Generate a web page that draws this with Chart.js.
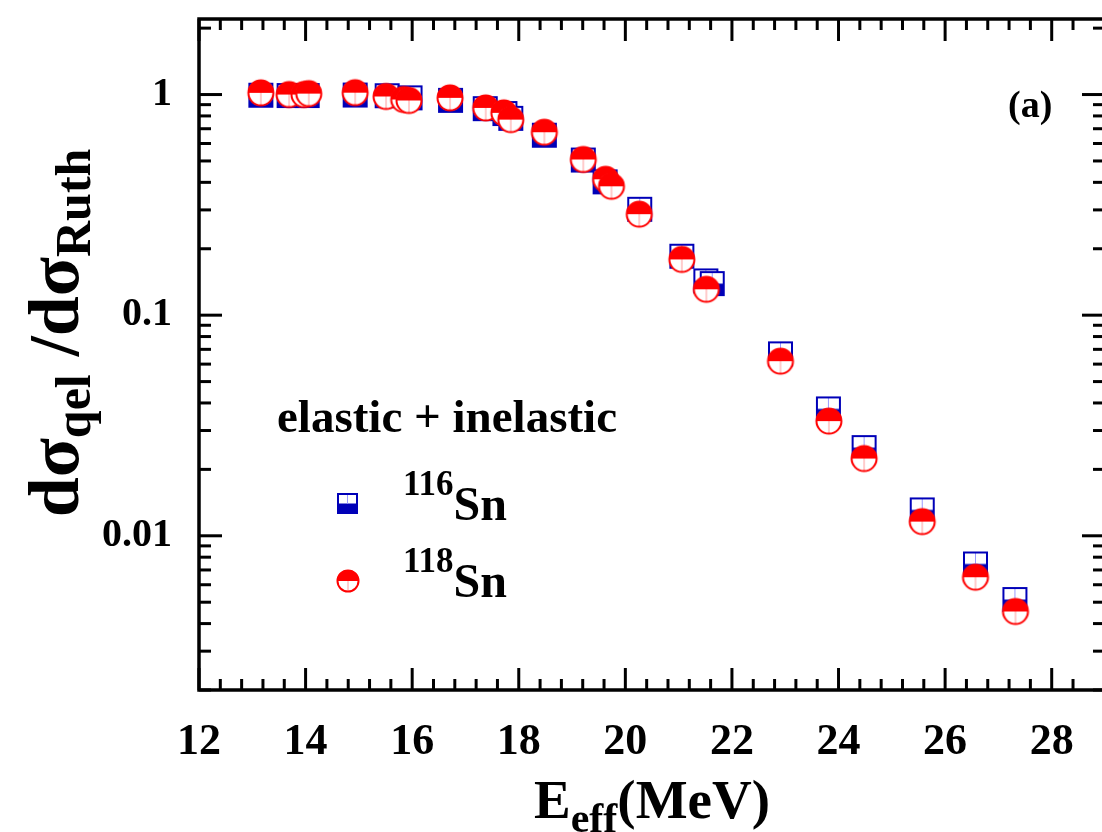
<!DOCTYPE html>
<html>
<head>
<meta charset="utf-8">
<script src="https://cdn.jsdelivr.net/npm/chart.js"></script>
<style>
  html, body { margin: 0; padding: 0; background: #fff; overflow: hidden; }
  #wrap { width: 1110px; height: 832px; }
</style>
</head>
<body>
<div id="wrap"><canvas id="qel" width="1110" height="832"></canvas></div>
<script>
// values (E_eff in MeV, ratio to Rutherford)
const energy116 = [13.16, 13.69, 14.03, 14.93, 15.53, 15.96, 16.72, 17.37, 17.74, 17.85, 18.48, 19.21, 19.62, 20.27, 21.06, 21.51, 21.63, 22.91, 23.81, 24.48, 25.57, 26.57, 27.31];
const sigma116  = [0.993, 0.99, 0.99, 0.995, 0.988, 0.966, 0.941, 0.863, 0.82, 0.78, 0.654, 0.505, 0.402, 0.302, 0.185, 0.143, 0.139, 0.0668, 0.0376, 0.0251, 0.0131, 0.00745, 0.00514];

const energy118 = [13.16, 13.69, 13.97, 14.06, 14.93, 15.51, 15.84, 15.94, 16.71, 17.38, 17.72, 17.85, 18.48, 19.21, 19.63, 19.74, 20.26, 21.06, 21.52, 22.91, 23.82, 24.48, 25.57, 26.57, 27.32];
const sigma118  = [1.018, 1.0, 1.0, 1.01, 1.02, 0.98, 0.95, 0.94, 0.966, 0.87, 0.826, 0.77, 0.675, 0.508, 0.413, 0.384, 0.287, 0.179, 0.131, 0.0619, 0.0331, 0.0224, 0.0116, 0.00649, 0.00454];

const yLabels = {1: '1', 0.1: '0.1', 0.01: '0.01'};
const xLabelStep = 2;

const SERIF = '"Liberation Serif", "Times New Roman", serif';
const BLUE = '#0000b8';
const RED = '#ff0000';

// half filled markers, like the origin plot symbols
function squareMarker(size) {
  const c = document.createElement('canvas');
  c.width = c.height = size + 4;
  const g = c.getContext('2d');
  const o = 2;
  g.fillStyle = '#fff';
  g.fillRect(o, o, size, size / 2);
  g.fillStyle = BLUE;
  g.fillRect(o, o + size / 2, size, size / 2);
  g.strokeStyle = '#9a9aff';
  g.lineWidth = 1;
  g.beginPath();
  g.moveTo(o + size / 2, o + 1);
  g.lineTo(o + size / 2, o + size / 2);
  g.stroke();
  g.strokeStyle = BLUE;
  g.lineWidth = 2;
  g.strokeRect(o, o, size, size);
  return c;
}

function circleMarker(size) {
  const c = document.createElement('canvas');
  c.width = c.height = size + 4;
  const g = c.getContext('2d');
  const m = (size + 4) / 2, r = size / 2;
  g.fillStyle = '#fff';
  g.beginPath(); g.arc(m, m, r, 0, Math.PI * 2); g.fill();
  g.fillStyle = RED;
  g.beginPath(); g.arc(m, m, r, Math.PI, Math.PI * 2); g.closePath(); g.fill();
  g.strokeStyle = '#ff9a9a';
  g.lineWidth = 1;
  g.beginPath(); g.moveTo(m, m); g.lineTo(m, m + r - 1); g.stroke();
  g.strokeStyle = RED;
  g.lineWidth = 2;
  g.beginPath(); g.arc(m, m, r - 0.5, 0, Math.PI * 2); g.stroke();
  return c;
}

function toPoints(xs, ys) {
  return xs.map((v, i) => ({x: v, y: ys[i]}));
}

// draw a run of text pieces [text, size, baseline shift]
function drawPieces(ctx, pieces, x, y, center) {
  let total = 0;
  pieces.forEach(p => {
    ctx.font = 'bold ' + p[1] + 'px ' + SERIF;
    total += ctx.measureText(p[0]).width;
  });
  let cx = center ? x - total / 2 : x;
  pieces.forEach(p => {
    ctx.font = 'bold ' + p[1] + 'px ' + SERIF;
    ctx.fillText(p[0], cx, y + (p[2] || 0));
    cx += ctx.measureText(p[0]).width;
  });
}

// keep chart.js from adding room for the edge labels
function noPad(s) {
  s.paddingTop = 0;
  s.paddingBottom = 0;
  s.paddingLeft = 0;
  s.paddingRight = 0;
}

const framePlugin = {
  id: 'frame',
  afterDraw(chart) {
    const ctx = chart.ctx;
    const a = chart.chartArea;
    const x = chart.scales.x, y = chart.scales.y;
    ctx.save();
    ctx.strokeStyle = '#000';
    ctx.fillStyle = '#000';

    const line = (x1, y1, x2, y2) => {
      ctx.beginPath(); ctx.moveTo(x1, y1); ctx.lineTo(x2, y2); ctx.stroke();
    };

    ctx.lineWidth = 3;
    x.ticks.forEach(t => {
      const k = (t.value - 12) / 0.4;
      if (Math.abs(k - Math.round(k)) > 1e-6) return;
      const v = Math.round(t.value * 10) / 10;
      const major = Math.abs(v - Math.round(v)) < 1e-6 && Math.round(v) % xLabelStep === 0;
      const px = x.getPixelForValue(t.value);
      const len = major ? 22 : 11;
      line(px, a.bottom, px, a.bottom - len);
      line(px, a.top, px, a.top + len);
    });
    y.ticks.forEach(t => {
      const e = Math.floor(Math.log10(t.value) + 1e-9);
      const m = t.value / Math.pow(10, e);
      if (Math.abs(m - Math.round(m)) > 1e-6) return;
      const major = Math.round(m) === 1;
      const py = y.getPixelForValue(t.value);
      const len = major ? 23 : 12;
      line(a.left, py, a.left + len, py);
      line(a.right, py, a.right - len, py);
    });

    ctx.lineWidth = 3.5;
    ctx.strokeRect(a.left, a.top, a.right - a.left, a.bottom - a.top);

    // axis titles
    ctx.textAlign = 'left';
    ctx.textBaseline = 'alphabetic';
    drawPieces(ctx, [['E', 55], ['eff', 42, 14], ['(MeV)', 55]], (a.left + a.right) / 2, 818, true);

    ctx.save();
    ctx.translate(78, 333);
    ctx.rotate(-Math.PI / 2);
    drawPieces(ctx, [['d\u03c3', 72], ['qel', 50, 12], [' /d\u03c3', 72], ['Ruth', 50, 12]], 0, 0, true);
    ctx.restore();

    // legend block
    drawPieces(ctx, [['elastic + inelastic', 47]], 277, 432, false);
    drawPieces(ctx, [['116', 35], ['Sn', 48, 25]], 403, 495, false);
    drawPieces(ctx, [['118', 35], ['Sn', 48, 25]], 403, 572, false);
    const sq = squareMarker(19), ci = circleMarker(22);
    ctx.drawImage(sq, 347.5 - sq.width / 2, 503.5 - sq.height / 2);
    ctx.drawImage(ci, 348 - ci.width / 2, 581 - ci.height / 2);

    drawPieces(ctx, [['(a)', 38]], 1008, 117, false);
    ctx.restore();
  }
};

new Chart(document.getElementById('qel'), {
  type: 'scatter',
  data: {
    datasets: [
      {
        label: '118Sn',
        data: toPoints(energy118, sigma118),
        pointStyle: circleMarker(26),
        order: 1
      },
      {
        label: '116Sn',
        data: toPoints(energy116, sigma116),
        pointStyle: squareMarker(23),
        order: 2
      }
    ]
  },
  options: {
    responsive: false,
    animation: false,
    devicePixelRatio: 1,
    layout: {padding: {top: 19, right: 4, left: 0, bottom: 0}},
    plugins: {legend: {display: false}, tooltip: {enabled: false}},
    scales: {
      x: {
        type: 'linear',
        min: 12,
        max: 29,
        grid: {display: false, drawTicks: false},
        border: {display: false},
        ticks: {
          stepSize: 0.4,
          autoSkip: false,
          maxRotation: 0,
          padding: 26,
          color: '#000',
          font: {family: SERIF, weight: 'bold', size: 44},
          callback: v => {
            const r = Math.round(v);
            return (Math.abs(v - r) < 1e-6 && r % xLabelStep === 0) ? String(r) : '';
          }
        },
        afterFit: s => { s.height = 142; noPad(s); }
      },
      y: {
        type: 'logarithmic',
        min: 0.002,
        max: 2.2,
        grid: {display: false, drawTicks: false},
        border: {display: false},
        ticks: {
          autoSkip: false,
          padding: 27,
          color: '#000',
          font: {family: SERIF, weight: 'bold', size: 40},
          callback: v => {
            for (const k in yLabels) {
              if (Math.abs(v - Number(k)) < 1e-9) return yLabels[k];
            }
            return '';
          }
        },
        afterFit: s => { s.width = 199; noPad(s); }
      }
    }
  },
  plugins: [framePlugin]
});
</script>
</body>
</html>
